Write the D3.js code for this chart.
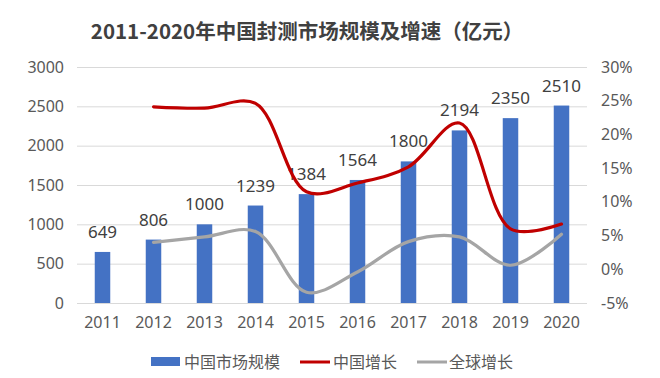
<!DOCTYPE html>
<html><head><meta charset="utf-8">
<script src="https://cdn.jsdelivr.net/npm/d3@7"></script>
<style>body{margin:0;background:#fff;}svg{display:block;font-family:"Noto Sans CJK SC","Noto Sans",sans-serif;}</style>
</head><body>
<svg id="c" width="660" height="378"></svg>
<script>
const years = ["2011","2012","2013","2014","2015","2016","2017","2018","2019","2020"];
const marketSize = [649,806,1000,1239,1384,1564,1800,2194,2350,2510];
const chinaGrowth = [null,24.1,23.9,24.6,11.5,12.8,15.2,21.7,6.0,6.7];
const globalGrowth = [null,4.0,4.8,5.6,-3.4,-0.4,4.1,4.8,0.6,5.2];
const leftTicks = [0,500,1000,1500,2000,2500,3000];
const rightTicks = [-5,0,5,10,15,20,25,30];
const legendNames = ["中国市场规模","中国增长","全球增长"];
const titleText = "2011-2020年中国封测市场规模及增速（亿元）";

const svg = d3.select("#c");
const textColor = "#595959";
const x = d3.scaleBand().domain(years).range([77,587]);
const yL = d3.scaleLinear().domain([0,3000]).range([303,67]);
const yR = d3.scaleLinear().domain([-5,30]).range([303,67]);

svg.append("text").attr("x",307).attr("y",39).attr("text-anchor","middle")
  .attr("font-size",20.5).attr("font-weight","bold").attr("fill","#404040").text(titleText);

// gridlines
svg.append("g").selectAll("line").data(leftTicks).join("line")
  .attr("x1",77).attr("x2",587).attr("y1",d=>yL(d)+0.5).attr("y2",d=>yL(d)+0.5)
  .attr("stroke","#D9D9D9").attr("stroke-width",1);

// left axis
const gl = svg.append("g").attr("transform","translate(77,0)")
  .call(d3.axisLeft(yL).tickValues(leftTicks).tickSize(0).tickPadding(13).tickFormat(d=>String(d)));
gl.select(".domain").remove();
gl.selectAll("text").attr("font-size",16).attr("fill",textColor).attr("font-family","'Noto Sans',sans-serif");

// right axis
const gr = svg.append("g").attr("transform","translate(587,0)")
  .call(d3.axisRight(yR).tickValues(rightTicks).tickSize(0).tickPadding(14).tickFormat(d=>d+"%"));
gr.select(".domain").remove();
gr.selectAll("text").attr("font-size",16).attr("fill",textColor).attr("font-family","'Noto Sans',sans-serif");

// bottom axis
const gb = svg.append("g").attr("transform","translate(0,303)")
  .call(d3.axisBottom(x).tickSize(0).tickPadding(14));
gb.select(".domain").remove();
gb.selectAll("text").attr("font-size",16).attr("fill",textColor).attr("font-family","'Noto Sans',sans-serif");

// bars
const bw = 15.5;
svg.append("g").selectAll("rect").data(marketSize).join("rect")
  .attr("x",(d,i)=>x(years[i])+x.bandwidth()/2-bw/2)
  .attr("y",d=>yL(d)).attr("width",bw).attr("height",d=>303-yL(d))
  .attr("fill","#4472C4");

// data labels
svg.append("g").selectAll("text").data(marketSize).join("text")
  .attr("x",(d,i)=>x(years[i])+x.bandwidth()/2)
  .attr("y",d=>yL(d)-14).attr("text-anchor","middle")
  .attr("font-size",17).attr("fill","#404040").attr("font-family","'Noto Sans',sans-serif")
  .text(d=>d);

// lines
const line = (ys) => d3.line()
  .defined(d=>d.v!==null)
  .x(d=>x(d.k)+x.bandwidth()/2).y(d=>ys(d.v))
  .curve(d3.curveCatmullRom.alpha(0.5));
const gData = years.map((k,i)=>({k,v:globalGrowth[i]}));
const cData = years.map((k,i)=>({k,v:chinaGrowth[i]}));
svg.append("path").datum(gData).attr("d",line(yR)).attr("fill","none")
  .attr("stroke","#A5A5A5").attr("stroke-width",3.2).attr("stroke-linecap","round");
svg.append("path").datum(cData).attr("d",line(yR)).attr("fill","none")
  .attr("stroke","#C00000").attr("stroke-width",3.2).attr("stroke-linecap","round");

// legend
const lg = svg.append("g").attr("font-size",16).attr("fill",textColor);
lg.append("rect").attr("x",151).attr("y",357).attr("width",29).attr("height",9).attr("fill","#4472C4");
lg.append("text").attr("x",184).attr("y",368).attr("fill",textColor).text(legendNames[0]);
lg.append("line").attr("x1",300).attr("x2",330).attr("y1",362).attr("y2",362).attr("stroke","#C00000").attr("stroke-width",3);
lg.append("text").attr("x",333).attr("y",368).attr("fill",textColor).text(legendNames[1]);
lg.append("line").attr("x1",417).attr("x2",447).attr("y1",362).attr("y2",362).attr("stroke","#A5A5A5").attr("stroke-width",3);
lg.append("text").attr("x",449).attr("y",368).attr("fill",textColor).text(legendNames[2]);
</script>
</body></html>
